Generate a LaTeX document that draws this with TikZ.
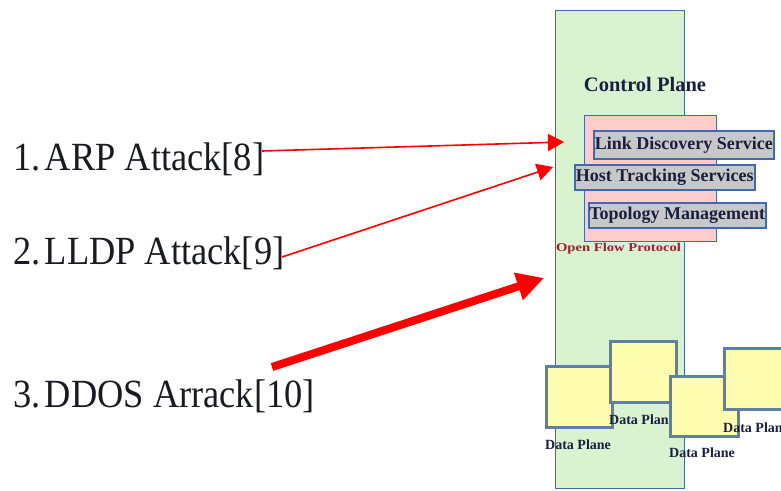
\documentclass[tikz,border=0pt]{standalone}
\usepackage{fontspec}
\setmainfont{Liberation Serif}
\usetikzlibrary{arrows.meta}
\definecolor{planegreen}{HTML}{D9F2D0}
\definecolor{planeblue}{HTML}{4169B0}
\definecolor{protopink}{HTML}{FFCCCC}
\definecolor{svcgray}{HTML}{C8C8C8}
\definecolor{dpyellow}{HTML}{FFFDB0}
\definecolor{dpborder}{HTML}{5E80A8}
\definecolor{navytext}{HTML}{1A1E40}
\definecolor{protored}{HTML}{A02028}
\definecolor{ink}{HTML}{1A1A22}
\tikzset{
  box/.style={draw=planeblue, line width=1.5pt, inner sep=0pt, anchor=north west},
  svc/.style={box, fill=svcgray, font=\fontsize{18}{20}\selectfont\bfseries, text=navytext},
  dp/.style={draw=dpborder, line width=2.6pt, fill=dpyellow, inner sep=0pt, anchor=north west,
             minimum width=66pt, minimum height=61pt},
  dplabel/.style={anchor=west, inner sep=0pt, text=navytext, font=\fontsize{14}{15}\selectfont\bfseries},
  attack/.style={anchor=base west, inner sep=0pt, text=ink},
  thinarrow/.style={draw=red, line width=1.6pt, -{Triangle[length=16pt,width=17pt]}},
  fatarrow/.style={draw=red, line width=8pt, -{Triangle[length=27pt,width=27pt]}}
}
\newcommand{\attacktext}[1]{\scalebox{0.91}[1]{\fontsize{40}{48}\selectfont #1}}
\begin{document}
\begin{tikzpicture}[x=1pt,y=-1pt]
\useasboundingbox (0,0) rectangle (781,490);

% control plane column
\node[box, fill=planegreen, minimum width=129pt, minimum height=478pt] (cp) at (554.5,9.5) {};
\node[inner sep=0pt, text=navytext, font=\fontsize{20.5}{22}\selectfont\bfseries] (cptitle) at (645,84) {Control Plane};

% OpenFlow protocol block with its services
\node[box, fill=protopink, minimum width=132pt, minimum height=126pt] (of) at (583.5,114.5) {};
\node[svc, minimum width=180pt, minimum height=28pt] (lds) at (593,130) {Link Discovery Service};
\node[svc, minimum width=180pt, minimum height=25pt] (hts) at (574,164) {Host Tracking Services};
\node[svc, minimum width=177pt, minimum height=25pt] (topo) at (588,202) {Topology Management};
\node[inner sep=0pt, text=protored] (ofp) at (618.5,249) {\scalebox{1.22}[1]{\fontsize{12}{13}\selectfont\bfseries Open Flow Protocol}};

% data plane switches, each labelled underneath
\node[dp] (dpa) at (545,365) {};
\node[dplabel] (dpal) at ([yshift=-16pt]dpa.south west) {Data Plane};
\node[dp] (dpb) at (609,340) {};
\node[dplabel] (dpbl) at ([yshift=-16pt]dpb.south west) {Data Plane};
\node[dp, minimum width=68pt, minimum height=60pt] (dpc) at (669,375) {};
\node[dplabel] (dpcl) at ([yshift=-15pt]dpc.south west) {Data Plane};
\node[dp] (dpd) at (723,347) {};
\node[dplabel] (dpdl) at ([yshift=-17pt]dpd.south west) {Data Plane};

% attacks
\node[attack] (arp) at (13,170) {\attacktext{1.\hspace{0.12em}ARP Attack[8]}};
\node[attack] (lldp) at (13,264) {\attacktext{2.\hspace{0.12em}LLDP Attack[9]}};
\node[attack] (ddos) at (13,407) {\attacktext{3.\hspace{0.12em}DDOS Arrack[10]}};

\coordinate (arps) at (262,151);
\coordinate (arpt) at (564,142);
\coordinate (lldps) at (282,257);
\coordinate (lldpt) at (553,167);
\coordinate (ddoss) at (272,367);
\coordinate (ddost) at (544,278);

\draw[thinarrow] (arps) -- (arpt);
\draw[thinarrow] (lldps) -- (lldpt);
\draw[fatarrow] (ddoss) -- (ddost);
\end{tikzpicture}
\end{document}
